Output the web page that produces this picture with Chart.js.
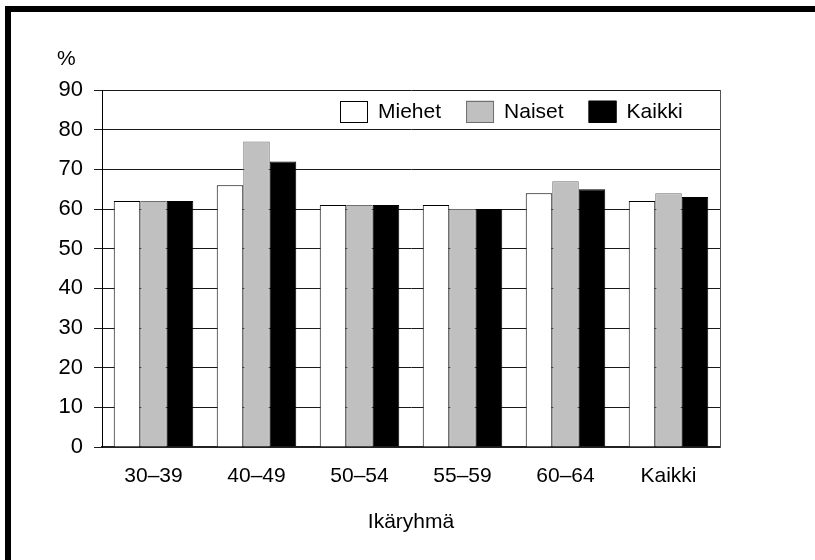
<!DOCTYPE html>
<html lang="fi">
<head>
<meta charset="utf-8">
<title>Ikäryhmä</title>
<script src="https://cdn.jsdelivr.net/npm/chart.js@4.4.1/dist/chart.umd.min.js"></script>
<style>
  html, body { margin: 0; padding: 0; background: #fff; }
  #wrap { position: relative; width: 815px; height: 560px; overflow: hidden; }
  #frame {
    position: absolute; left: 5px; top: 6px; right: -10px; bottom: -10px;
    border-left: 6px solid #000; border-top: 6px solid #000;
    pointer-events: none;
  }
  canvas { position: absolute; left: 0; top: 0; }
</style>
</head>
<body>
<div id="wrap">
  <canvas id="chart" width="815" height="560"></canvas>
  <div id="frame"></div>
</div>
<script>
const categories = ["30–39", "40–49", "50–54", "55–59", "60–64", "Kaikki"];
const seriesNames = ["Miehet", "Naiset", "Kaikki"];
const miehet = [62, 66, 61, 61, 64, 62];
const naiset = [62, 77, 61, 60, 67, 64];
const kaikki = [62, 72, 61, 60, 65, 63];
const yMin = 0;
const yMax = 90;
const yStep = 10;

const FONT = "'Liberation Sans', Arial, Helvetica, sans-serif";
const INK = "#000";

const styles = [
  { fill: "#ffffff", border: "#000000" },
  { fill: "#c0c0c0", border: "#6f6f6f" },
  { fill: "#000000", border: "#000000" }
];

const values = [miehet, naiset, kaikki];

const datasets = seriesNames.map((name, i) => ({
  label: name,
  data: values[i],
  backgroundColor: styles[i].fill,
  borderColor: styles[i].border,
  borderWidth: 1,
  borderSkipped: "bottom",
  categoryPercentage: 0.772,
  barPercentage: 1.0
}));

// legend sits inside the plot, drawn by hand since the built-in one can't
const innerLegend = {
  id: "innerLegend",
  afterDatasetsDraw(chart) {
    const { ctx, chartArea } = chart;
    const size = 21;
    const boxW = 28;
    const boxH = 22;
    const cy = chartArea.top + 21.5;
    let x = chartArea.left + 238;
    ctx.save();
    ctx.font = `${size}px ${FONT}`;
    ctx.textBaseline = "middle";
    ctx.textAlign = "left";
    chart.data.datasets.forEach((ds) => {
      ctx.fillStyle = ds.backgroundColor;
      ctx.fillRect(x, cy - boxH / 2, boxW, boxH);
      ctx.strokeStyle = ds.borderColor;
      ctx.lineWidth = 1;
      ctx.strokeRect(x + 0.5, Math.round(cy - boxH / 2) + 0.5, boxW - 1, boxH - 1);
      ctx.fillStyle = INK;
      ctx.fillText(ds.label, x + boxW + 10, cy + 1);
      x += boxW + 10 + ctx.measureText(ds.label).width + 25;
    });
    ctx.restore();
  }
};

const unitLabel = {
  id: "unitLabel",
  afterDraw(chart) {
    const { ctx, chartArea } = chart;
    ctx.save();
    ctx.font = `21px ${FONT}`;
    ctx.fillStyle = INK;
    ctx.textBaseline = "middle";
    ctx.textAlign = "left";
    ctx.fillText("%", chartArea.left - 45, chartArea.top - 31);
    ctx.restore();
  }
};

Chart.defaults.font.family = FONT;
Chart.defaults.font.size = 21;
Chart.defaults.color = INK;

new Chart(document.getElementById("chart"), {
  type: "bar",
  data: { labels: categories, datasets },
  options: {
    responsive: false,
    animation: false,
    layout: { padding: { top: 90, right: 95, left: 0, bottom: 0 } },
    plugins: {
      legend: { display: false },
      tooltip: { enabled: false }
    },
    scales: {
      x: {
        grid: { display: false, drawTicks: false },
        border: { display: true, color: "#222", width: 2 },
        ticks: { padding: 17, maxRotation: 0, font: { size: 21 } },
        title: {
          display: true,
          text: "Ikäryhmä",
          font: { size: 21 },
          padding: { top: 0, bottom: 25 }
        },
        afterFit: (scale) => { scale.height = 113; }
      },
      y: {
        min: yMin,
        max: yMax,
        ticks: { stepSize: yStep, padding: 11, font: { size: 22 } },
        grid: { color: "#1a1a1a", lineWidth: 1, tickLength: 8, tickColor: "#1a1a1a" },
        border: { display: true, color: "#000", width: 1 },
        afterFit: (scale) => { scale.width = 102; }
      },
      yEdge: {
        position: "right",
        min: yMin,
        max: yMax,
        ticks: { display: false },
        grid: { display: false, drawTicks: false },
        border: { display: true, color: "#555", width: 1 },
        afterFit: (scale) => { scale.width = 0; }
      }
    }
  },
  plugins: [innerLegend, unitLabel]
});
</script>
</body>
</html>
